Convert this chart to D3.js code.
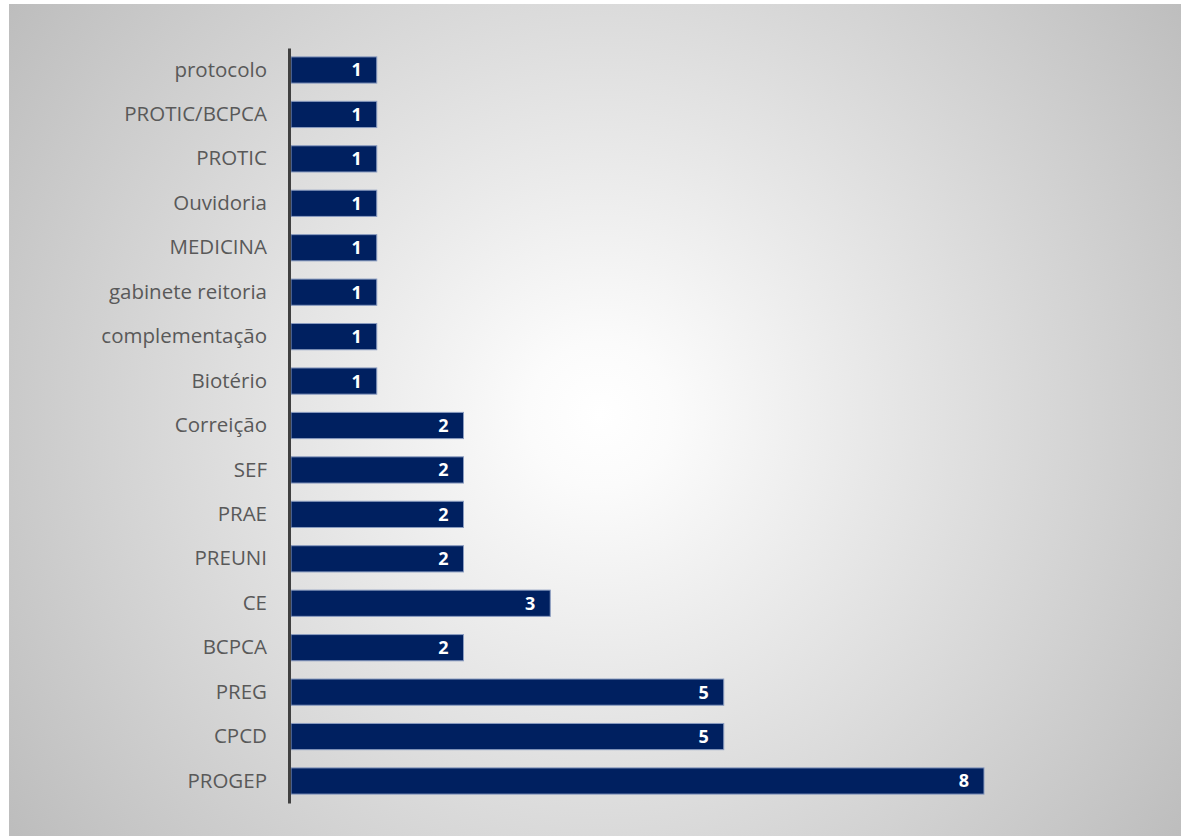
<!DOCTYPE html>
<html>
<head>
<meta charset="utf-8">
<script src="https://cdn.jsdelivr.net/npm/d3@7"></script>
<style>
  html, body { margin: 0; padding: 0; background: #ffffff; }
  svg { display: block; }
</style>
</head>
<body>
<svg id="chart" width="1181" height="836"></svg>
<script>
// Categories from top to bottom, with their counts
const categories = ["protocolo", "PROTIC/BCPCA", "PROTIC", "Ouvidoria", "MEDICINA",
  "gabinete reitoria", "complementação", "Biotério", "Correição", "SEF", "PRAE",
  "PREUNI", "CE", "BCPCA", "PREG", "CPCD", "PROGEP"];
const counts = [1, 1, 1, 1, 1, 1, 1, 1, 2, 2, 2, 2, 3, 2, 5, 5, 8];

const W = 1181, H = 836;
const svg = d3.select("#chart");

// Radial background
const defs = svg.append("defs");
const grad = defs.append("radialGradient")
  .attr("id", "bg").attr("gradientUnits", "userSpaceOnUse")
  .attr("cx", 600).attr("cy", 415).attr("r", 720);
grad.append("stop").attr("offset", "0").attr("stop-color", "#ffffff");
grad.append("stop").attr("offset", "0.1").attr("stop-color", "#fbfbfb");
grad.append("stop").attr("offset", "1").attr("stop-color", "#bdbdbd");

svg.append("rect").attr("x", 9).attr("y", 4).attr("width", W - 9).attr("height", H - 4)
  .attr("fill", "url(#bg)");

const x0 = 290;
const x = d3.scaleLinear().domain([0, 8]).range([x0, x0 + 8 * 86.75]);
const y = d3.scaleBand().domain(categories).range([48, 803]).paddingInner(0.41).paddingOuter(0.2);

const data = categories.map((c, i) => ({ cat: c, v: counts[i] }));

// Bars
svg.append("g").selectAll("rect").data(data).join("rect")
  .attr("x", x(0) + 1)
  .attr("y", d => y(d.cat))
  .attr("width", d => x(d.v) - x(0) - 1)
  .attr("height", y.bandwidth())
  .attr("fill", "#002060")
  .attr("stroke", "#8a9cc0")
  .attr("stroke-width", 1);

// Value labels
svg.append("g").selectAll("text").data(data).join("text")
  .attr("x", d => x(d.v) - 15)
  .attr("y", d => y(d.cat) + y.bandwidth() / 2)
  .attr("dy", "0.36em")
  .attr("text-anchor", "end")
  .attr("fill", "#ffffff")
  .attr("font-family", "'Open Sans', Lato, sans-serif")
  .attr("font-weight", "bold")
  .attr("font-size", 18)
  .text(d => d.v);

// Category axis
const axis = svg.append("g").attr("transform", `translate(${x0 - 1},0)`)
  .call(d3.axisLeft(y).tickSize(0).tickPadding(22));
axis.select(".domain").attr("stroke", "#404040").attr("stroke-width", 3);
axis.selectAll("text")
  .attr("fill", "#595959")
  .attr("font-family", "'Open Sans', Lato, sans-serif")
  .attr("font-size", 20.5);
</script>
</body>
</html>
